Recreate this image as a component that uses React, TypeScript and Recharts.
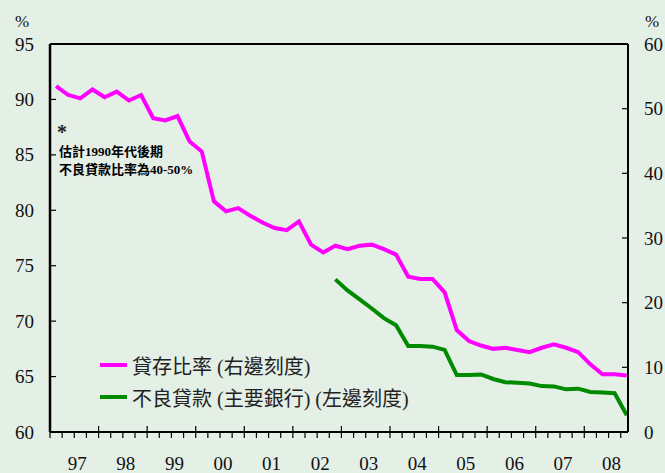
import { LineChart, Line, XAxis, YAxis, ReferenceLine } from 'recharts'

const YEARS = ['97', '98', '99', '00', '01', '02', '03', '04', '05', '06', '07', '08']

// quarterly, 97Q1 .. 08Q4
const LOAN_DEPOSIT = [
  91.2, 90.4, 90.1, 90.9, 90.2, 90.7, 89.9, 90.4, 88.3, 88.1,
  88.5, 86.2, 85.3, 80.8, 79.9, 80.2, 79.5, 78.9, 78.4, 78.2,
  79.0, 76.9, 76.2, 76.8, 76.5, 76.8, 76.9, 76.5, 76.0, 74.0,
  73.8, 73.8, 72.6, 69.2, 68.2, 67.8, 67.5, 67.6, 67.4, 67.2,
  67.6, 67.9, 67.6, 67.2, 66.1, 65.2, 65.2, 65.1,
]

// starts at 02Q4
const NPL_START = 23
const NPL_MAJOR = [
  23.6, 21.9, 20.5, 19.1, 17.6, 16.5, 13.3, 13.3, 13.2, 12.7,
  8.8, 8.8, 8.9, 8.2, 7.7, 7.6, 7.5, 7.1, 7.05, 6.6,
  6.7, 6.2, 6.1, 6.0, 2.6,
]

const LEFT_TICKS = [60, 65, 70, 75, 80, 85, 90, 95]
const RIGHT_TICKS = [0, 10, 20, 30, 40, 50, 60]

const LEGEND = [
  { label: '貸存比率 (右邊刻度)', color: '#ff00ff' },
  { label: '不良貸款 (主要銀行) (左邊刻度)', color: '#008a00' },
]

const data = LOAN_DEPOSIT.map((v, i) => ({
  q: i + 0.5,
  ltd: v,
  npl: i >= NPL_START ? NPL_MAJOR[i - NPL_START] : null,
}))

const quarterTicks = Array.from({ length: YEARS.length * 4 }, (_, i) => i)

const SERIF = '"Liberation Serif", "Times New Roman", "Noto Sans CJK TC", serif'

function QuarterTick({ x, y, payload }: any) {
  const i = payload.value as number
  const major = i % 4 === 0 && i > 0
  const label = i % 4 === 2 ? YEARS[(i - 2) / 4] : null
  return (
    <g>
      <line x1={x} x2={x} y1={major ? y - 6 : y} y2={y + 6} stroke="#000" strokeWidth={1.2} />
      {label && (
        <text x={x + 3} y={y + 38} textAnchor="middle" fontSize={19} fontFamily={SERIF} fill="#111">
          {label}
        </text>
      )}
    </g>
  )
}

function LeftTick({ x, y, payload }: any) {
  return (
    <g>
      <line x1={x} x2={x + 6} y1={y} y2={y} stroke="#000" strokeWidth={1.2} />
      <text x={x - 16} y={y + 6.5} textAnchor="end" fontSize={19} fontFamily={SERIF} fill="#111">
        {payload.value}
      </text>
    </g>
  )
}

function RightTick({ x, y, payload }: any) {
  return (
    <g>
      <line x1={x} x2={x - 6} y1={y} y2={y} stroke="#000" strokeWidth={1.2} />
      <text x={x + 16} y={y + 6.5} textAnchor="start" fontSize={19} fontFamily={SERIF} fill="#111">
        {payload.value}
      </text>
    </g>
  )
}

function LegendBox() {
  return (
    <div style={{ position: 'absolute', left: 100, top: 349, fontFamily: SERIF, fontSize: 20, color: '#222' }}>
      {LEGEND.map((item) => (
        <div key={item.label} style={{ display: 'flex', alignItems: 'center', height: 32 }}>
          <span style={{ display: 'inline-block', width: 27, height: 4, background: item.color, marginRight: 5 }} />
          <span style={{ whiteSpace: 'nowrap' }}>{item.label}</span>
        </div>
      ))}
    </div>
  )
}

export default function App() {
  return (
    <div style={{ position: 'fixed', left: 0, top: 0, width: 665, height: 473, background: '#e4efe6' }}>
      <LineChart width={665} height={473} data={data} margin={{ top: 44, right: 0, bottom: 0, left: 0 }}>
        <XAxis
          dataKey="q"
          type="number"
          domain={[0, 47.6]}
          ticks={quarterTicks}
          interval={0}
          height={41}
          tickSize={0}
          tickMargin={0}
          tickLine={false}
          tick={<QuarterTick />}
          axisLine={{ stroke: '#000', strokeWidth: 2 }}
          allowDataOverflow
        />
        <YAxis
          yAxisId="left"
          orientation="left"
          domain={[60, 95]}
          ticks={LEFT_TICKS}
          interval={0}
          width={50}
          tickSize={0}
          tickMargin={0}
          tickLine={false}
          tick={<LeftTick />}
          axisLine={{ stroke: '#000', strokeWidth: 2.5 }}
          allowDataOverflow
        />
        <YAxis
          yAxisId="right"
          orientation="right"
          domain={[0, 60]}
          ticks={RIGHT_TICKS}
          interval={0}
          width={37}
          tickSize={0}
          tickMargin={0}
          tickLine={false}
          tick={<RightTick />}
          axisLine={{ stroke: '#000', strokeWidth: 2 }}
          allowDataOverflow
        />
        <ReferenceLine yAxisId="left" y={95} stroke="#000" strokeWidth={2} />
        <Line
          yAxisId="left"
          dataKey="ltd"
          stroke="#ff00ff"
          strokeWidth={4}
          dot={false}
          activeDot={false}
          isAnimationActive={false}
        />
        <Line
          yAxisId="right"
          dataKey="npl"
          stroke="#008a00"
          strokeWidth={4}
          dot={false}
          activeDot={false}
          isAnimationActive={false}
        />
      </LineChart>
      <LegendBox />
      <div style={{ position: 'absolute', left: 15, top: 12, fontFamily: SERIF, fontSize: 17, color: '#111' }}>%</div>
      <div style={{ position: 'absolute', left: 645, top: 12, fontFamily: SERIF, fontSize: 17, color: '#111' }}>%</div>
      <div style={{ position: 'absolute', left: 57, top: 121, fontFamily: SERIF, fontSize: 20, fontWeight: 'bold', color: '#222' }}>
        *
      </div>
      <div
        style={{
          position: 'absolute',
          left: 59,
          top: 143,
          fontFamily: SERIF,
          fontSize: 13,
          fontWeight: 'bold',
          lineHeight: '18px',
          color: '#000',
          whiteSpace: 'nowrap',
        }}
      >
        估計1990年代後期
        <br />
        不良貸款比率為40-50%
      </div>
    </div>
  )
}
